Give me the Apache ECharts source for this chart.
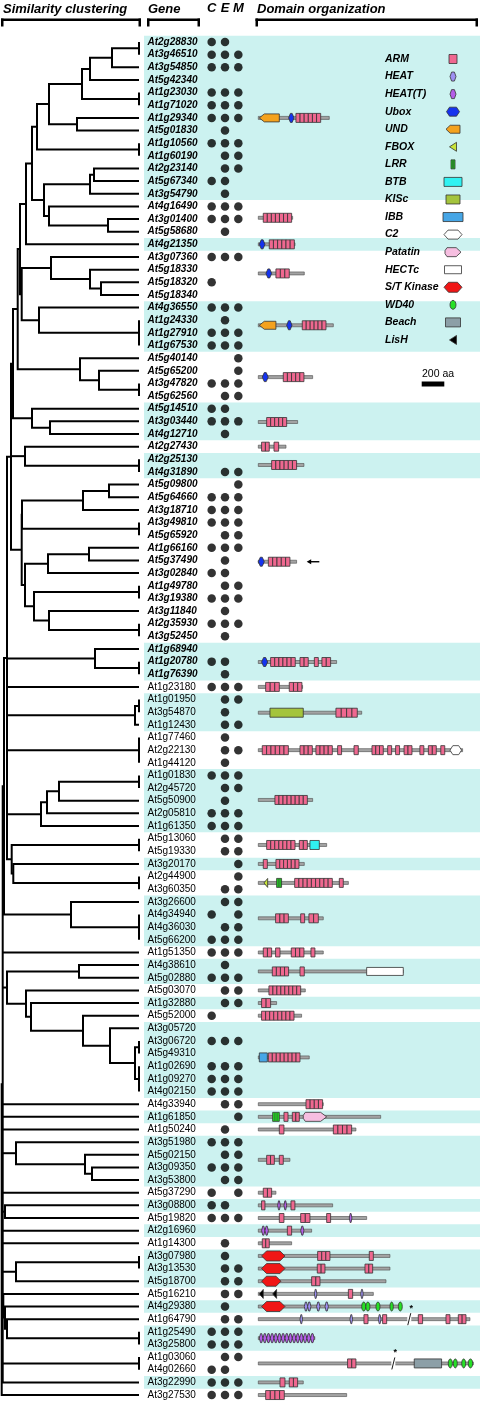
<!DOCTYPE html>
<html><head><meta charset="utf-8">
<script src="https://cdn.jsdelivr.net/npm/echarts@6/dist/echarts.min.js"></script>
<style>html,body{margin:0;padding:0;background:#fff;}#chart{width:480px;height:1402px;}</style>
</head><body><div id="chart"></div>
<script>
// ---------------- DATA ----------------
const genes = ['At2g28830','At3g46510','At3g54850','At5g42340','At1g23030','At1g71020','At1g29340','At5g01830','At1g10560','At1g60190',
'At2g23140','At5g67340','At3g54790','At4g16490','At3g01400','At5g58680','At4g21350','At3g07360','At5g18330','At5g18320',
'At5g18340','At4g36550','At1g24330','At1g27910','At1g67530','At5g40140','At5g65200','At3g47820','At5g62560','At5g14510',
'At3g03440','At4g12710','At2g27430','At2g25130','At4g31890','At5g09800','At5g64660','At3g18710','At3g49810','At5g65920',
'At1g66160','At5g37490','At3g02840','At1g49780','At3g19380','At3g11840','At2g35930','At3g52450','At1g68940','At1g20780',
'At1g76390','At1g23180','At1g01950','At3g54870','At1g12430','At1g77460','At2g22130','At1g44120','At1g01830','At2g45720',
'At5g50900','At2g05810','At1g61350','At5g13060','At5g19330','At3g20170','At2g44900','At3g60350','At3g26600','At4g34940',
'At4g36030','At5g66200','At1g51350','At4g38610','At5g02880','At5g03070','At1g32880','At5g52000','At3g05720','At3g06720',
'At5g49310','At1g02690','At1g09270','At4g02150','At4g33940','At1g61850','At1g50240','At3g51980','At5g02150','At3g09350',
'At3g53800','At5g37290','At3g08800','At5g19820','At2g16960','At1g14300','At3g07980','At3g13530','At5g18700','At5g16210',
'At4g29380','At1g64790','At1g25490','At3g25800','At1g03060','At4g02660','At3g22990','At3g27530'];
const boldCount = 51;
const locColumns = ['C','E','M'];
const locs = ['CE','CEM','CEM','','CEM','CEM','CEM','E','CEM','EM',
'EM','CE','E','CEM','CEM','E','','CEM','','C',
'','CEM','E','CEM','CEM','M','M','CEM','EM','CE',
'CEM','E','','','EM','M','CEM','CEM','CEM','EM',
'CEM','E','CE','EM','CEM','E','CEM','E','','CE',
'E','CEM','EM','E','EM','E','EM','E','CEM','EM',
'E','CEM','CEM','EM','EM','M','M','EM','EM','CM',
'EM','CEM','CEM','E','CEM','EM','EM','C','','CEM',
'','CEM','CEM','CEM','EM','M','E','CEM','EM','CEM',
'EM','CM','CE','CEM','','E','E','EM','EM','EM',
'E','EM','CEM','CEM','EM','CE','CEM','CEM'];
const bands = [[0,12],[16,16],[21,24],[29,31],[33,34],[48,50],[52,54],[58,62],[65,65],[68,71],[73,74],[76,76],
[78,83],[85,85],[87,90],[92,92],[94,94],[96,98],[100,100],[102,103],[106,106]];

// dendrogram: node = [level, child, child, ...], leaf = row index (level 139)
const LEAF = 139;
const nA=[139,0,1], nB=[112,nA,2], nC=[90,nB,3], nD=[139,4,5], nE=[82,nC,nD], nF=[77,6,7], nG=[49,nE,nF];
const nH=[139,8,9], nI=[37,nG,nH], nJ=[94,10,11], nK=[90,nJ,12], nL=[108,14,15], nM=[49,13,nL], nN=[44,nK,nM];
const nO=[32,nI,nN], nP1=[26,nO,16];
const nP=[101,19,20], nQ=[90,18,nP], nR=[51,17,nQ], nS=[139,22,23,24], nT=[39,21,nS], nU=[21.7,nR,nT];
const nP2=[20,nP1,nU];
const nV=[139,27,28], nW=[99,26,nV], nX=[80,25,nW], nP3=[17.7,nP2,nX];
const nY=[50,30,31], nZ=[32,29,nY], nP4=[13,nP3,nZ];
const nAA=[139,33,34], nAB=[25,32,nAA];
const nAC=[109,35,36], nAD=[83,nAC,37], nAE=[139,38,39], nAF=[22,nAD,nAE];
const nAG=[89,40,41], nAH=[48,nAG,42], nAI=[139,43,44], nAJ=[139,46,47], nAK=[49,45,nAJ], nAL=[34,nAI,nAK];
const nAM=[25,nAH,nAL], nAN=[21.7,nAF,nAM];
const nP5=[11,nP4,nAB,nAN];
const nAO=[139,49,50], nAP=[95,48,nAO];
const nAQ=[139,52,53], nAR=[135,nAQ,54], nAS=[139,55,56,57];
const nAT=[139,58,59], nAU=[59,nAT,60], nAV=[47,nAU,61], nAW=[41,nAV,62];
const nAX=[139,63,64], nAY=[139,66,67], nAZ=[13.3,65,nAY], nBA=[11.7,nAX,nAZ];
const nBB=[139,69,70,71], nBC=[71,68,nBB];
const nBD=[79,73,74];
const nBE=[139,79,80], nBF=[139,81,82,83], nBG=[135,nBE,nBF], nBH=[110,78,nBG], nBI=[83,77,nBH], nBJ=[31,76,nBI], nBK=[26,75,nBJ];
const nBL=[92,89,90], nBM=[85,88,nBL], nBN=[16,87,nBM];
const nBO=[139,96,97], nBP=[16,nBO,98];
const nBQ=[139,102,103], nBR=[139,104,105];
const dendrogram = [1.7,
  [2.7,
    [4,[7,nP5,nAP,51,nAR,nAS,nAW,nBA],nBC],
    72,[7,nBD,nBK],84,85,86,nBN,91,[5,92,93],94,95,nBP,
    [3.3,99,[5,100,[7,101,nBQ]]],nBR,106],
  107];

// domain diagrams
const diagramPos = [6.0,13.9,16.0,18.3,22.4,26.5,30.05,32.0,33.45,41.1,49.03,51.0,53.04,56.0,59.94,63.5,65.0,66.5,69.3,72.0,73.5,75.0,76.0,77.0,80.3,84.0,85.0,86.0,88.4,91.0,92.0,93.0,94.0,95.0,96.0,97.0,98.0,99.0,100.0,101.0,102.5,104.5,106.0,107.0];
const diagramLen = [628,304,325,407,664,481,348,245,404,339,693,392,915,1808,481,605,407,797,575,575,1283,416,162,383,451,575,1083,864,280,156,658,959,472,295,1165,1165,1130,1018,1268,1873,500,1903,398,782];
const diagramDomains = [
 [['UND',9,186],['Ubox',268,316],['ARM',333,552,6]],
 [['ARM',44,295,7]],
 [['Ubox',9,59],['ARM',97,319,6]],
 [['Ubox',68,118],['ARM',156,274,3]],
 [['UND',9,156],['Ubox',251,298],['ARM',389,599,6]],
 [['Ubox',35,88],['ARM',221,404,5]],
 [['ARM',74,251,5]],
 [['ARM',29,97,2],['ARM',139,180,1]],
 [['ARM',118,339,6]],
 [['Ubox',0,53],['ARM',89,280,5],['ARROW',428,540]],
 [['Ubox',29,83],['ARM',109,327,6],['ARM',369,442,2],['ARM',496,531,1],['ARM',563,640,2]],
 [['ARM',65,186,3],['ARM',274,386,3]],
 [['KISc',103,398],['ARM',687,876,4]],
 [['ARM',35,266,6],['ARM',369,478,3],['ARM',510,655,4],['ARM',702,737,1],['ARM',847,885,1],['ARM',1006,1106,3],['ARM',1145,1180,1],['ARM',1215,1250,1],['ARM',1290,1360,2],['ARM',1430,1465,1],['ARM',1505,1575,2],['ARM',1615,1650,1],['C2',1696,1799]],
 [['ARM',147,434,8]],
 [['ARM',74,325,7],['ARM',363,434,2],['BTB',457,540]],
 [['ARM',44,80,1],['ARM',156,360,6]],
 [['FBOX',50,83],['LRR',162,206],['ARM',322,655,9],['ARM',717,752,1]],
 [['ARM',153,266,3],['ARM',375,410,1],['ARM',448,531,2]],
 [['ARM',44,118,2],['ARM',153,192,1],['ARM',292,404,3],['ARM',466,501,1]],
 [['ARM',124,268,4],['ARM',369,407,1],['HECTc',959,1283]],
 [['ARM',94,375,8]],
 [['ARM',29,109,2]],
 [['ARM',29,316,8]],
 [['IBB',9,80],['ARM',89,369,8]],
 [['ARM',422,569,4]],
 [['LRR',127,186],['ARM',227,263,1],['ARM',301,363,2],['Patatin',398,605]],
 [['ARM',186,227,1],['ARM',664,826,4]],
 [['ARM',74,142,2],['ARM',186,221,1]],
 [['ARM',44,118,2]],
 [['ARM',29,59,1],['HEATT',171,195],['HEATT',227,251],['ARM',289,324,1]],
 [['ARM',186,227,1],['ARM',375,457,2],['ARM',605,640,1],['HEATT',805,829]],
 [['HEATT',29,89,2],['ARM',257,295,1],['HEATT',375,404]],
 [['ARM',35,97,2]],
 [['STK',29,236],['ARM',525,634,3],['ARM',982,1018,1]],
 [['STK',29,236],['ARM',522,590,2],['ARM',944,1012,2]],
 [['STK',29,200],['ARM',472,546,2]],
 [['LisH',9,44],['LisH',127,162],['HEAT',496,519],['ARM',797,835,1],['HEAT',906,929]],
 [['STK',29,236],['HEAT',407,466,2],['HEAT',516,546],['HEAT',590,620],['WD40',915,988,2],['WD40',1041,1077],['WD40',1165,1195],['WD40',1239,1274]],
 [['HEAT',369,392],['HEAT',811,835],['ARM',935,971,1],['HEAT',1062,1086],['ARM',1100,1136,1],['BREAK',1336],['ARM',1416,1454,1],['ARM',1661,1696,1],['ARM',1770,1838,2]],
 [['HEATT',9,495,15]],
 [['ARM',790,864,2],['BREAK',1195],['Beach',1380,1622],['WD40',1681,1717],['WD40',1726,1761],['WD40',1800,1835],['WD40',1858,1897]],
 [['ARM',192,236,1],['ARM',274,348,2]],
 [['ARM',65,230,4]]
];

const legendTypes = ['ARM','HEAT','HEATT','Ubox','UND','FBOX','LRR','BTB','KISc','IBB','C2','Patatin','HECTc','STK','WD40','Beach','LisH'];
const legendLabels = ['ARM','HEAT','HEAT(T)','Ubox','UND','FBOX','LRR','BTB','KISc','IBB','C2','Patatin','HECTc','S/T Kinase','WD40','Beach','LisH'];
const legendIconWidths = [8,6,6,13,14,7,4,18,14,20,18,16,17,18,6,15,7];
const scaleBarAA = 200;

// ---------------- DRAWING HELPERS ----------------
const COLORS = {ARM:'#ef6890', HEAT:'#9e90f2', HEATT:'#b45ee8', Ubox:'#1533ee', UND:'#f4a21e', FBOX:'#c8e43a',
  LRR:'#22dd22', BTB:'#30f2f2', KISc:'#a4c43c', IBB:'#46a6e6', C2:'#ffffff', Patatin:'#f6bee0', HECTc:'#ffffff',
  STK:'#f01616', WD40:'#26e026', Beach:'#8c9fa7', LisH:'#000000'};
const FONT = '"Liberation Sans", Arial, sans-serif';

function ellipsePts(cx, cy, rx, ry){const p=[];for(let i=0;i<16;i++){const a=i/16*Math.PI*2;p.push([cx+rx*Math.cos(a),cy+ry*Math.sin(a)]);}return p;}
function hexPts(x1,x2,yc,hh,k){return [[x1,yc],[x1+k,yc-hh],[x2-k,yc-hh],[x2,yc],[x2-k,yc+hh],[x1+k,yc+hh]];}
function shapeEls(t, x1, x2, yc, n){
  const out=[]; const w=x2-x1; const cnt=n||1;
  const st=(f)=>({fill:f, stroke:'#333', lineWidth:0.8});
  const poly=(pts)=>out.push({type:'polygon', shape:{points:pts}, style:st(COLORS[t])});
  const rect=(x,y,ww,hh)=>out.push({type:'rect', shape:{x:x,y:y,width:ww,height:hh}, style:st(COLORS[t])});
  if(t==='ARM'){const sw=w/cnt;for(let i=0;i<cnt;i++)rect(x1+i*sw,yc-4.5,sw,9);}
  else if(t==='HEAT'||t==='HEATT'){const sw=w/cnt;for(let i=0;i<cnt;i++)poly(hexPts(x1+i*sw,x1+(i+1)*sw,yc,4.5,Math.min(1.6,sw/3)));}
  else if(t==='Ubox'){poly(hexPts(x1,x2,yc,4.5,Math.min(3,w/3)));}
  else if(t==='STK'){poly(hexPts(x1,x2,yc,5,Math.min(5,w/4)));}
  else if(t==='C2'){poly(hexPts(x1,x2,yc,4.5,Math.min(4,w/4)));}
  else if(t==='WD40'){const sw=w/cnt;for(let i=0;i<cnt;i++)poly(ellipsePts(x1+sw*(i+0.5),yc,sw/2,4.5));}
  else if(t==='UND'){const k=Math.min(5,w*0.3);poly([[x1,yc],[x1+k,yc-4],[x2,yc-4],[x2,yc+4],[x1+k,yc+4]]);}
  else if(t==='Patatin'){const k=Math.min(6,w*0.3);poly([[x1,yc-1.5],[x1+2,yc-4.5],[x2-k,yc-4.5],[x2,yc],[x2-k,yc+4.5],[x1+2,yc+4.5],[x1,yc+1.5]]);}
  else if(t==='FBOX'||t==='LisH'){poly([[x1,yc],[x2,yc-4.5],[x2,yc+4.5]]);}
  else if(t==='LRR'){rect(x1,yc-4.5,w,9);for(let i=1;i<3;i++){const xx=x1+w*i/3;out.push({type:'line',shape:{x1:xx,y1:yc-4,x2:xx,y2:yc+4},style:{stroke:'#333',lineWidth:0.6}});}}
  else if(t==='HECTc'){rect(x1,yc-4,w,8);}
  else {rect(x1,yc-4.5,w,9);}
  return out;
}
function txt(x,y,s,font,align){return {type:'text', x:x, y:y, style:{text:s, font:font, fill:'#000', align:align||'left', verticalAlign:'middle', textAlign:align||'left', textVerticalAlign:'middle'}};}

// dendrogram layout -> polylines in data coordinates
const dendroPolys=[];
function layoutNode(node){
  if(typeof node==='number') return {h:LEAF, y:node};
  const h=node[0]; const kids=node.slice(1).map(layoutNode);
  const first=kids[0], last=kids[kids.length-1];
  dendroPolys.push([[first.h,first.y],[h,first.y],[h,last.y],[last.h,last.y]]);
  for(let i=1;i<kids.length-1;i++) dendroPolys.push([[h,kids[i].y],[kids[i].h,kids[i].y]]);
  return {h:h, y:(first.y+last.y)/2};
}
layoutNode(dendrogram);

// ---------------- CHART ----------------
const N = genes.length;
const TOP = 35.7, ROWH = 12.645, H = ROWH*N;
const yAx = (gi)=>({type:'value', gridIndex:gi, min:-0.5, max:N-0.5, inverse:true, show:false});
const AA_PX = 0.113; const DOM_LEFT = 258.3; const DOM_W = 480-DOM_LEFT;

const dotData=[];
locs.forEach((s,i)=>{locColumns.forEach((c,j)=>{if(s.indexOf(c)>=0)dotData.push([j,i]);});});

// legend graphics
const legendEls=[];
legendTypes.forEach((t,i)=>{
  const y=59+i*17.56; const w=legendIconWidths[i];
  legendEls.push(txt(385,y,legendLabels[i],'italic bold 10.5px '+FONT));
  shapeEls(t,453-w/2,453+w/2,y,1).forEach(e=>legendEls.push(e));
});
// scale bar
legendEls.push(txt(422,374,scaleBarAA+' aa','10.5px '+FONT));
legendEls.push({type:'rect', shape:{x:421.7,y:381.5,width:scaleBarAA*AA_PX,height:5}, style:{fill:'#000'}});
// headers
legendEls.push(txt(3,9,'Similarity clustering','italic bold 13px '+FONT));
legendEls.push(txt(148,9,'Gene','italic bold 13px '+FONT));
legendEls.push(txt(257,9,'Domain organization','italic bold 13px '+FONT));
[[1,141],[147,200],[255.5,478]].forEach(b=>{
  legendEls.push({type:'rect',shape:{x:b[0],y:18.5,width:b[1]-b[0],height:2.5},style:{fill:'#000'}});
  legendEls.push({type:'rect',shape:{x:b[0],y:18.5,width:2.5,height:8},style:{fill:'#000'}});
  legendEls.push({type:'rect',shape:{x:b[1]-2.5,y:18.5,width:2.5,height:8},style:{fill:'#000'}});
});
legendEls.forEach(e=>{e.z=100;});

const chart = echarts.init(document.getElementById('chart'), null, {renderer:'canvas'});
chart.setOption({
  animation:false,
  backgroundColor:'#fff',
  grid:[
    {left:0, top:TOP, width:139, height:H},
    {left:144, top:TOP, right:0, height:H},
    {left:205, top:TOP, width:40, height:H},
    {left:DOM_LEFT, top:TOP, width:DOM_W, height:H}
  ],
  xAxis:[
    {type:'value', gridIndex:0, min:0, max:139, show:false},
    {type:'value', gridIndex:1, min:0, max:1, show:false},
    {type:'category', gridIndex:2, data:locColumns, position:'top', axisLine:{show:false}, axisTick:{show:false}, splitLine:{show:false},
      axisLabel:{fontFamily:FONT, fontSize:13, fontWeight:'bold', fontStyle:'italic', color:'#000', margin:21, interval:0}},
    {type:'value', gridIndex:3, min:0, max:DOM_W/AA_PX, show:false}
  ],
  yAxis:[yAx(0),yAx(1),yAx(2),yAx(3)],
  graphic:{elements:legendEls},
  series:[
    {type:'custom', xAxisIndex:1, yAxisIndex:1, z:0, silent:true,
      data:bands.map(b=>[0,b[0],b[1]]),
      renderItem:(p,api)=>{const a=api.coord([0,api.value(1)-0.5]);const b=api.coord([1,api.value(2)+0.5]);
        return {type:'rect', shape:{x:a[0],y:a[1],width:b[0]-a[0],height:b[1]-a[1]}, style:{fill:'#ccf2f0'}};}},
    {type:'custom', xAxisIndex:0, yAxisIndex:0, z:3, silent:true,
      data:dendroPolys.map(p=>[p[0][0],p[0][1]]),
      renderItem:(p,api)=>{const pts=dendroPolys[p.dataIndex].map(q=>api.coord(q));
        return {type:'polyline', shape:{points:pts}, style:{stroke:'#000', lineWidth:2, fill:null, lineJoin:'miter'}};}},
    {type:'custom', xAxisIndex:1, yAxisIndex:1, z:3, silent:true,
      data:genes.map((g,i)=>[0,i]),
      renderItem:(p,api)=>{const c=api.coord([0,p.dataIndex]);
        const f=(p.dataIndex<boldCount?'italic bold ':'')+'10px '+FONT;
        return txt(c[0]+3.5,c[1],genes[p.dataIndex],f);}},
    {type:'scatter', xAxisIndex:2, yAxisIndex:2, z:3, silent:true, symbol:'circle', symbolSize:8.5,
      itemStyle:{color:'#000'}, data:dotData},
    {type:'custom', xAxisIndex:3, yAxisIndex:3, z:3, silent:true,
      data:diagramPos.map((p,i)=>[0,p,diagramLen[i]]),
      renderItem:(p,api)=>{
        const i=p.dataIndex; const row=diagramPos[i];
        const a=api.coord([0,row]), b=api.coord([diagramLen[i],row]); const yc=a[1];
        const ch=[{type:'rect', shape:{x:a[0],y:yc-1.5,width:b[0]-a[0],height:3}, style:{fill:'#a3a3a3',stroke:'#4a4a4a',lineWidth:0.6}}];
        diagramDomains[i].forEach(d=>{
          const x1=api.coord([d[1],row])[0];
          if(d[0]==='BREAK'){
            ch.push({type:'rect', shape:{x:x1-2,y:yc-2.5,width:4,height:5}, style:{fill:'#fff'}});
            ch.push({type:'line', shape:{x1:x1-1.5,y1:yc+6,x2:x1+1.5,y2:yc-6}, style:{stroke:'#000',lineWidth:0.9}});
            ch.push(txt(x1+2,yc-11,'*','bold 9px '+FONT,'center'));
            return;
          }
          const x2=api.coord([d[2],row])[0];
          if(d[0]==='ARROW'){
            ch.push({type:'line', shape:{x1:x1+2,y1:yc,x2:x2,y2:yc}, style:{stroke:'#000',lineWidth:1.4}});
            ch.push({type:'polygon', shape:{points:[[x1,yc],[x1+4.5,yc-2.5],[x1+4.5,yc+2.5]]}, style:{fill:'#000'}});
            return;
          }
          shapeEls(d[0],x1,x2,yc,d[3]).forEach(e=>ch.push(e));
        });
        return {type:'group', children:ch};
      }}
  ]
});
</script></body></html>
